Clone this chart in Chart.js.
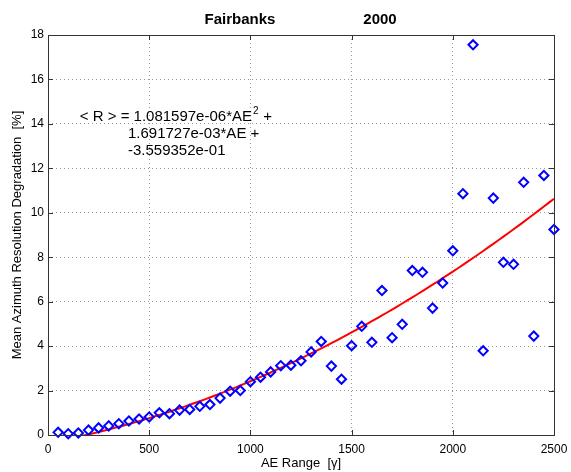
<!DOCTYPE html>
<html lang="en">
<head>
<meta charset="UTF-8">
<script src="https://cdn.jsdelivr.net/npm/chart.js"></script>
<style>
  html, body { margin: 0; padding: 0; background: #fff; }
  #wrap { width: 571px; height: 472px; }
</style>
</head>
<body>
<div id="wrap"><canvas id="myChart" width="571" height="472"></canvas></div>
<script>
// AE range bins (nT) and mean degradation [%]
const aeRange = [50, 100, 150, 200, 250, 300, 350, 400, 450, 500,
  550, 600, 650, 700, 750, 800, 850, 900, 950, 1000,
  1050, 1100, 1150, 1200, 1250, 1300, 1350, 1400, 1450, 1500,
  1550, 1600, 1650, 1700, 1750, 1800, 1850, 1900, 1950, 2000,
  2050, 2100, 2150, 2200, 2250, 2300, 2350, 2400, 2450, 2500]
const degradation = [0.12, 0.06, 0.09, 0.22, 0.32, 0.41, 0.51, 0.63, 0.72, 0.81,
  1.00, 0.96, 1.12, 1.15, 1.29, 1.37, 1.66, 1.97, 2.00, 2.40,
  2.60, 2.84, 3.12, 3.14, 3.34, 3.74, 4.21, 3.10, 2.51, 4.02,
  4.89, 4.17, 6.50, 4.38, 4.98, 7.40, 7.32, 5.71, 6.84, 8.29,
  10.86, 17.56, 3.79, 10.66, 7.77, 7.68, 11.37, 4.45, 11.68, 9.25]

// quadratic fit coefficients shown in the annotation (a*AE^2 + b*AE + c)
const fitCoeffs = [1.081597e-06, 1.691727e-03, -3.559352e-01]
const xTicks = [0, 500, 1000, 1500, 2000, 2500]
const yTicks = [0, 2, 4, 6, 8, 10, 12, 14, 16, 18]

const fitLine = aeRange.map(ae => ({
  x: ae,
  y: fitCoeffs[0] * ae * ae + fitCoeffs[1] * ae + fitCoeffs[2]
}))
const points = aeRange.map((ae, i) => ({ x: ae, y: degradation[i] }))

const FONT = '"Liberation Sans", Arial, sans-serif'

// frame, inner ticks, title, axis titles and the fit text
const decorations = {
  id: 'decorations',
  afterDraw(chart) {
    const ctx = chart.ctx
    const a = chart.chartArea
    const xs = chart.scales.x
    const ys = chart.scales.y
    ctx.save()
    ctx.strokeStyle = '#333'
    ctx.lineWidth = 1
    ctx.strokeRect(Math.round(a.left) + 0.5, Math.round(a.top) + 0.5,
      Math.round(a.right - a.left), Math.round(a.bottom - a.top))
    ctx.beginPath()
    xTicks.forEach(v => {
      const px = Math.round(xs.getPixelForValue(v)) + 0.5
      ctx.moveTo(px, a.bottom); ctx.lineTo(px, a.bottom - 5)
      ctx.moveTo(px, a.top); ctx.lineTo(px, a.top + 5)
    })
    yTicks.forEach(v => {
      const py = Math.round(ys.getPixelForValue(v)) + 0.5
      ctx.moveTo(a.left, py); ctx.lineTo(a.left + 5, py)
      ctx.moveTo(a.right, py); ctx.lineTo(a.right - 5, py)
    })
    ctx.stroke()

    ctx.fillStyle = '#000'
    ctx.textBaseline = 'alphabetic'
    ctx.textAlign = 'center'
    ctx.font = 'bold 15px ' + FONT
    ctx.fillText('Fairbanks', 240, 24)
    ctx.fillText('2000', 380, 24)

    ctx.font = '13px ' + FONT
    ctx.fillText('AE Range  [\u03b3]', (a.left + a.right) / 2, 467)
    ctx.save()
    ctx.translate(21, (a.top + a.bottom) / 2)
    ctx.rotate(-Math.PI / 2)
    ctx.fillText('Mean Azimuth Resolution Degradation  [%]', 0, 0)
    ctx.restore()

    // fit equation, placed in data coordinates
    ctx.textAlign = 'left'
    ctx.font = '15px ' + FONT
    const x1 = xs.getPixelForValue(157)
    const x2 = xs.getPixelForValue(395)
    const y1 = ys.getPixelForValue(14.15)
    const s1 = '< R > = 1.081597e-06*AE'
    ctx.fillText(s1, x1, y1)
    const w1 = ctx.measureText(s1).width
    ctx.font = '10px ' + FONT
    ctx.fillText('2', x1 + w1 + 1, y1 - 7)
    ctx.font = '15px ' + FONT
    ctx.fillText(' +', x1 + w1 + 7, y1)
    ctx.fillText('1.691727e-03*AE +', x2, y1 + 17)
    ctx.fillText('-3.559352e-01', x2, y1 + 34)
    ctx.restore()
  }
}

new Chart(document.getElementById('myChart'), {
  type: 'scatter',
  data: {
    datasets: [{
      label: 'fit',
      data: fitLine,
      showLine: true,
      borderColor: '#ff0000',
      borderWidth: 2,
      pointRadius: 0,
      tension: 0.4,
      order: 2
    }, {
      label: 'mean degradation',
      data: points,
      pointStyle: 'rectRot',
      pointRadius: 4.6,
      pointBorderWidth: 2,
      borderColor: '#0000ff',
      backgroundColor: 'rgba(0,0,0,0)',
      clip: 6,
      order: 1
    }]
  },
  plugins: [decorations],
  options: {
    responsive: false,
    animation: false,
    layout: { padding: { top: 35, right: 17, bottom: 0, left: 0 } },
    plugins: { legend: { display: false }, tooltip: { enabled: false } },
    scales: {
      x: {
        type: 'linear', min: 0, max: 2500,
        afterBuildTicks: s => { s.ticks = xTicks.map(v => ({ value: v })) },
        afterFit: s => { s.height = 37; s.paddingLeft = 0; s.paddingRight = 0 },
        ticks: { color: '#000', padding: 7, maxRotation: 0, callback: v => String(v),
          font: { family: FONT, size: 12 } },
        grid: { color: '#999', drawTicks: false },
        border: { display: false, dash: [1, 3] }
      },
      y: {
        type: 'linear', min: 0, max: 18,
        afterBuildTicks: s => { s.ticks = yTicks.map(v => ({ value: v })) },
        afterFit: s => { s.width = 48; s.paddingTop = 0; s.paddingBottom = 0 },
        ticks: { color: '#000', padding: 4, callback: v => String(v),
          font: { family: FONT, size: 12 } },
        grid: { color: '#999', drawTicks: false },
        border: { display: false, dash: [1, 3] }
      }
    }
  }
})
</script>
</body>
</html>
